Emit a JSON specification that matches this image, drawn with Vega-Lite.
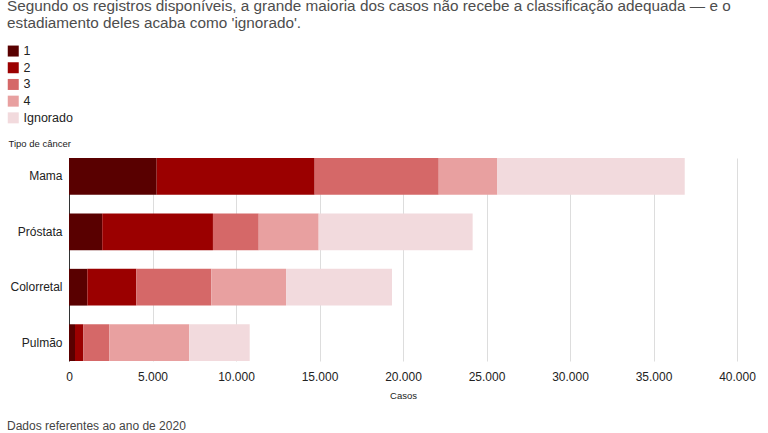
{
  "$schema": "https://vega.github.io/schema/vega-lite/v6.json",
  "width": 668,
  "height": 203,
  "autosize": {"type": "none"},
  "padding": {"left": 69, "top": 158, "right": 31, "bottom": 72},
  "background": "white",
  "title": {
    "text": "Dados referentes ao ano de 2020",
    "orient": "bottom",
    "anchor": "start",
    "frame": "group",
    "dx": -62,
    "offset": 21,
    "fontSize": 12,
    "fontWeight": "normal",
    "color": "#444",
    "font": "Liberation Sans"
  },
  "data": {
    "values": [
      {"tipo": "Mama", "estadio": "1", "ordem": 1, "casos": 5250},
      {"tipo": "Mama", "estadio": "2", "ordem": 2, "casos": 9460},
      {"tipo": "Mama", "estadio": "3", "ordem": 3, "casos": 7430},
      {"tipo": "Mama", "estadio": "4", "ordem": 4, "casos": 3510},
      {"tipo": "Mama", "estadio": "Ignorado", "ordem": 5, "casos": 11220},
      {"tipo": "Próstata", "estadio": "1", "ordem": 1, "casos": 1990},
      {"tipo": "Próstata", "estadio": "2", "ordem": 2, "casos": 6630},
      {"tipo": "Próstata", "estadio": "3", "ordem": 3, "casos": 2740},
      {"tipo": "Próstata", "estadio": "4", "ordem": 4, "casos": 3590},
      {"tipo": "Próstata", "estadio": "Ignorado", "ordem": 5, "casos": 9220},
      {"tipo": "Colorretal", "estadio": "1", "ordem": 1, "casos": 1100},
      {"tipo": "Colorretal", "estadio": "2", "ordem": 2, "casos": 2930},
      {"tipo": "Colorretal", "estadio": "3", "ordem": 3, "casos": 4490},
      {"tipo": "Colorretal", "estadio": "4", "ordem": 4, "casos": 4480},
      {"tipo": "Colorretal", "estadio": "Ignorado", "ordem": 5, "casos": 6340},
      {"tipo": "Pulmão", "estadio": "1", "ordem": 1, "casos": 360},
      {"tipo": "Pulmão", "estadio": "2", "ordem": 2, "casos": 500},
      {"tipo": "Pulmão", "estadio": "3", "ordem": 3, "casos": 1550},
      {"tipo": "Pulmão", "estadio": "4", "ordem": 4, "casos": 4790},
      {"tipo": "Pulmão", "estadio": "Ignorado", "ordem": 5, "casos": 3620}
    ]
  },
  "mark": {"type": "bar"},
  "encoding": {
    "y": {
      "field": "tipo",
      "type": "nominal",
      "sort": ["Mama", "Próstata", "Colorretal", "Pulmão"],
      "scale": {"paddingInner": 0.337, "paddingOuter": 0},
      "axis": {
        "title": "Tipo de câncer",
        "titleAngle": 0,
        "titleX": -61,
        "titleY": -15,
        "titleAlign": "left",
        "titleBaseline": "middle",
        "titleFontSize": 9.5,
        "titleFontWeight": "normal",
        "titleColor": "#222",
        "ticks": false,
        "labelPadding": 7,
        "labelFontSize": 12,
        "labelColor": "#222",
        "domainColor": "#333",
        "domainWidth": 1
      }
    },
    "x": {
      "field": "casos",
      "type": "quantitative",
      "stack": "zero",
      "scale": {"domain": [0, 40000], "nice": false},
      "axis": {
        "title": "Casos",
        "values": [0, 5000, 10000, 15000, 20000, 25000, 30000, 35000, 40000],
        "labelExpr": "replace(format(datum.value, ','), ',', '.')",
        "labelFlush": false,
        "grid": true,
        "gridColor": "#dddddd",
        "domain": false,
        "ticks": false,
        "labelPadding": 10,
        "labelFontSize": 12,
        "labelColor": "#222",
        "titleFontSize": 9.5,
        "titleFontWeight": "normal",
        "titleColor": "#222",
        "titlePadding": 8
      }
    },
    "color": {
      "field": "estadio",
      "type": "nominal",
      "scale": {
        "domain": ["1", "2", "3", "4", "Ignorado"],
        "range": ["#590000", "#9b0000", "#d56868", "#e8a0a0", "#f2dadd"]
      },
      "legend": {
        "orient": "none",
        "legendX": -62,
        "legendY": -159.5,
        "direction": "vertical",
        "title": [
          "Segundo os registros disponíveis, a grande maioria dos casos não recebe a classificação adequada — e o",
          "estadiamento deles acaba como 'ignorado'."
        ],
        "titleFontSize": 15.3,
        "titleFontWeight": "normal",
        "titleColor": "#4d4d4d",
        "titleLimit": 2000,
        "titleLineHeight": 17,
        "titlePadding": 14,
        "symbolType": "square",
        "symbolSize": 121,
        "symbolStrokeWidth": 0,
        "labelFontSize": 12.5,
        "labelColor": "#222",
        "labelOffset": 4,
        "rowPadding": 3.7
      }
    },
    "order": {"field": "ordem", "type": "quantitative"}
  },
  "config": {
    "font": "Liberation Sans",
    "view": {"stroke": null}
  }
}
